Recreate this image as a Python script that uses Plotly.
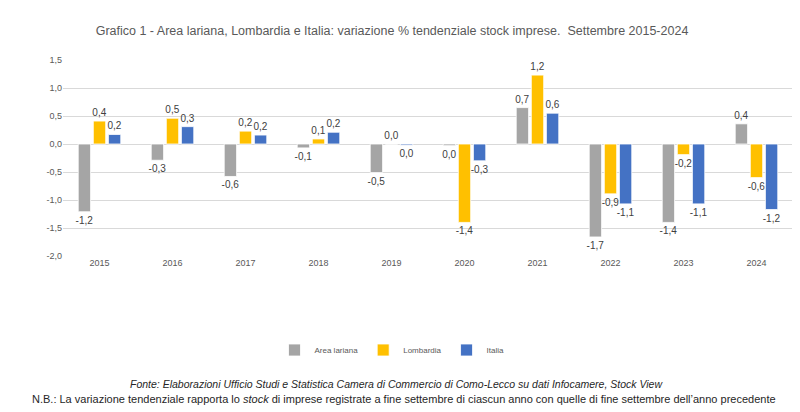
import plotly.graph_objects as go

years = ["2015", "2016", "2017", "2018", "2019", "2020", "2021", "2022", "2023", "2024"]
area_lariana = [-1.21, -0.29, -0.58, -0.07, -0.51, -0.03, 0.65, -1.66, -1.40, 0.36]
lombardia = [0.41, 0.46, 0.23, 0.09, 0.00, -1.40, 1.23, -0.89, -0.19, -0.60]
italia = [0.17, 0.31, 0.16, 0.21, -0.02, -0.30, 0.55, -1.07, -1.07, -1.17]
tick_vals = [-2.0, -1.5, -1.0, -0.5, 0.0, 0.5, 1.0, 1.5]
tick_text = ["-2,0", "-1,5", "-1,0", "-0,5", "0,0", "0,5", "1,0", "1,5"]

FONT = "Liberation Sans, Arial, sans-serif"


def F(size, color):
    return dict(family=FONT, size=size, color=color)


def fmt(v):
    r = round(v, 1)
    if abs(r) < 0.05:
        r = 0.0
    return f"{r:.1f}".replace(".", ",")


series = [
    ("Area lariana", area_lariana, "#A5A5A5"),
    ("Lombardia", lombardia, "#FFC000"),
    ("Italia", italia, "#4472C4"),
]

fig = go.Figure()
for name, vals, color in series:
    fig.add_trace(go.Bar(
        x=years, y=vals, name=name,
        marker=dict(color=color, line=dict(color="white", width=0.8)),
        text=[fmt(v) for v in vals],
        textposition="outside",
        constraintext="none",
        cliponaxis=False,
        textfont=F(10, "#404040"),
        hoverinfo="skip",
    ))

fig.update_layout(
    width=800, height=412,
    paper_bgcolor="white", plot_bgcolor="white",
    margin=dict(l=55, r=15, t=52, b=164),
    barmode="group", bargap=0.38, bargroupgap=0.18,
    title=dict(
        text="Grafico 1 - Area lariana, Lombardia e Italia: variazione % tendenziale stock imprese.  Settembre 2015-2024",
        x=384 / 800, xref="container", xanchor="center",
        y=0.945, yref="container", yanchor="middle",
        font=F(12.5, "#595959"),
    ),
    showlegend=True,
    legend=dict(
        orientation="h", x=(384 - 55) / 730, xanchor="center",
        y=1 - 342 / 412, yref="container", yanchor="middle",
        font=F(8, "#595959"),
        itemwidth=30, traceorder="normal",
    ),
    xaxis=dict(
        showgrid=False, showline=False, ticks="",
        tickfont=F(9, "#595959"),
    ),
    yaxis=dict(
        range=[-2.0, 1.5], tickvals=tick_vals, ticktext=tick_text,
        showgrid=True, gridcolor="#D9D9D9", gridwidth=1,
        zeroline=True, zerolinecolor="#D9D9D9", zerolinewidth=1,
        showline=False, ticks="",
        tickfont=F(9, "#595959"),
    ),
    annotations=[
        dict(text="<i>Fonte: Elaborazioni Ufficio Studi e Statistica Camera di Commercio di Como-Lecco su dati Infocamere, Stock View</i>",
             x=388, y=376, showarrow=False, xanchor="center", yanchor="middle",
             xref="paper", yref="paper",
             font=F(10.5, "#262626")),
        dict(text="N.B.: La variazione tendenziale rapporta lo <i>stock</i> di imprese registrate a fine settembre di ciascun anno con quelle di fine settembre dell’anno precedente",
             x=396, y=391, showarrow=False, xanchor="center", yanchor="middle",
             xref="paper", yref="paper",
             font=F(11, "#262626")),
    ],
)

plot_left, plot_w = 55, 730
plot_top, plot_h = 52, 196
for ann in fig.layout.annotations:
    ann.x = (ann.x - plot_left) / plot_w
    ann.y = (plot_top + plot_h - ann.y) / plot_h

fig.write_html("out.html")
